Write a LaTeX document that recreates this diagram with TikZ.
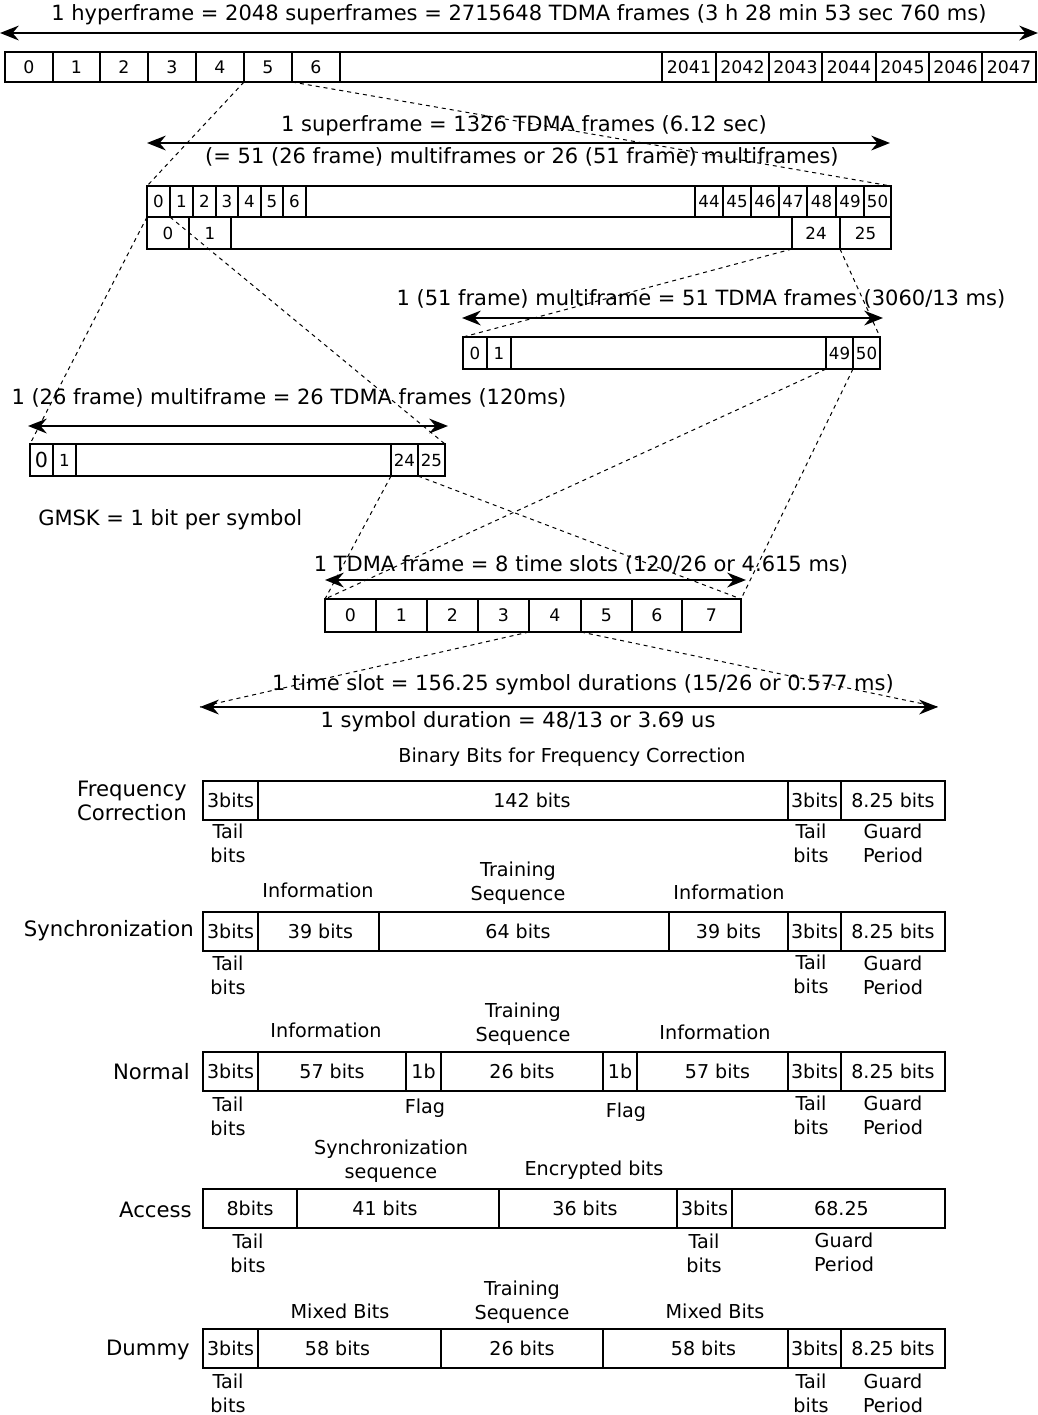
\documentclass[tikz,border=0pt]{standalone}
\usepackage{fontspec}
\setmainfont{DejaVu Sans}
\usetikzlibrary{arrows.meta}
\newcommand\cellx[7]{\node[#6, anchor=north west, minimum width={(#4-#2)*0.75pt}, minimum height={(#5-#3)*0.75pt}] (#1) at (#2,#3) {#7};}
\tikzset{
 cell/.style={draw, line width=1.8pt, inner sep=0pt, outer sep=0pt, font=\fontsize{13pt}{15pt}\selectfont},
 scell/.style={cell, font=\fontsize{12.5pt}{14pt}\selectfont},
 bcell/.style={cell, font=\fontsize{14.3pt}{17pt}\selectfont},
 zcell/.style={cell, font=\fontsize{15.5pt}{17pt}\selectfont},
 ttl/.style={inner sep=0pt, font=\fontsize{15.75pt}{19pt}\selectfont},
 lbl/.style={inner sep=0pt, align=center, font=\fontsize{14.4pt}{18pt}\selectfont},
 rowname/.style={inner sep=0pt, anchor=east, align=right, font=\fontsize{15.9pt}{18pt}\selectfont},
 span/.style={line width=2.1pt, {Stealth[length=14pt,width=11pt]}-{Stealth[length=14pt,width=11pt]}},
 zoomline/.style={line width=0.75pt, dash pattern=on 3pt off 3pt},
}
\begin{document}
\begin{tikzpicture}[x=0.75pt,y=-0.75pt]
\useasboundingbox (0,0) rectangle (1038,1415);
% ---------- hyperframe
\node[ttl] (hyt) at (519,15) {1 hyperframe = 2048 superframes = 2715648 TDMA frames (3 h 28 min 53 sec 760 ms)};
\coordinate (hya) at (0,33); \coordinate (hyb) at (1038,33);
\draw[span] (hya) -- (hyb);
\cellx{h0}{5}{52}{53}{82}{cell}{0}
\cellx{h1}{53}{52}{100}{82}{cell}{1}
\cellx{h2}{100}{52}{148}{82}{cell}{2}
\cellx{h3}{148}{52}{196}{82}{cell}{3}
\cellx{h4}{196}{52}{244}{82}{cell}{4}
\cellx{h5}{244}{52}{292}{82}{cell}{5}
\cellx{h6}{292}{52}{340}{82}{cell}{6}
\cellx{hgap}{340}{52}{662}{82}{cell}{}
\cellx{h2041}{662}{52}{716}{82}{cell}{2041}
\cellx{h2042}{716}{52}{769}{82}{cell}{2042}
\cellx{h2043}{769}{52}{822}{82}{cell}{2043}
\cellx{h2044}{822}{52}{876}{82}{cell}{2044}
\cellx{h2045}{876}{52}{929}{82}{cell}{2045}
\cellx{h2046}{929}{52}{982}{82}{cell}{2046}
\cellx{h2047}{982}{52}{1036}{82}{cell}{2047}
% ---------- superframe
\node[ttl] (sut) at (524,126) {1 superframe = 1326 TDMA frames (6.12 sec)};
\coordinate (sua) at (147,143); \coordinate (sub) at (890,143);
\draw[span] (sua) -- (sub);
\node[ttl] (sut2) at (522,157) {(= 51 (26 frame) multiframes or 26 (51 frame) multiframes)};
\cellx{s0}{147}{186}{170}{217}{scell}{0}
\cellx{s1}{170}{186}{193}{217}{scell}{1}
\cellx{s2}{193}{186}{216}{217}{scell}{2}
\cellx{s3}{216}{186}{238}{217}{scell}{3}
\cellx{s4}{238}{186}{261}{217}{scell}{4}
\cellx{s5}{261}{186}{283}{217}{scell}{5}
\cellx{s6}{283}{186}{306}{217}{scell}{6}
\cellx{sgap}{306}{186}{695}{217}{scell}{}
\cellx{s44}{695}{186}{723}{217}{scell}{44}
\cellx{s45}{723}{186}{751}{217}{scell}{45}
\cellx{s46}{751}{186}{779}{217}{scell}{46}
\cellx{s47}{779}{186}{807}{217}{scell}{47}
\cellx{s48}{807}{186}{836}{217}{scell}{48}
\cellx{s49}{836}{186}{864}{217}{scell}{49}
\cellx{s50}{864}{186}{891}{217}{scell}{50}
\cellx{r0}{147}{217}{189}{249}{scell}{0}
\cellx{r1}{189}{217}{231}{249}{scell}{1}
\cellx{rgap}{231}{217}{792}{249}{scell}{}
\cellx{r24}{792}{217}{840}{249}{scell}{24}
\cellx{r25}{840}{217}{891}{249}{scell}{25}
% ---------- 51 frame multiframe
\node[ttl] (mat) at (701,299) {1 (51 frame) multiframe = 51 TDMA frames (3060/13 ms)};
\coordinate (maa) at (462,318); \coordinate (mab) at (883,318);
\draw[span] (maa) -- (mab);
\cellx{a0}{463}{337}{487}{369}{scell}{0}
\cellx{a1}{487}{337}{511}{369}{scell}{1}
\cellx{agap}{511}{337}{826}{369}{scell}{}
\cellx{a49}{826}{337}{853}{369}{scell}{49}
\cellx{a50}{853}{337}{880}{369}{scell}{50}
% ---------- 26 frame multiframe
\node[ttl] (mbt) at (289,398) {1 (26 frame) multiframe = 26 TDMA frames (120ms)};
\coordinate (mba) at (28,426); \coordinate (mbb) at (448,426);
\draw[span] (mba) -- (mbb);
\cellx{b0}{30}{444}{53}{476}{zcell}{0}
\cellx{b1}{53}{444}{76}{476}{scell}{1}
\cellx{bgap}{76}{444}{391}{476}{scell}{}
\cellx{b24}{391}{444}{418}{476}{scell}{24}
\cellx{b25}{418}{444}{445}{476}{scell}{25}
\node[ttl, anchor=west] (gmsk) at (38,520) {GMSK = 1 bit per symbol};
% ---------- TDMA frame
\node[ttl] (tdt) at (581,565) {1 TDMA frame = 8 time slots (120/26 or 4.615 ms)};
\coordinate (tda) at (325,580); \coordinate (tdb) at (746,580);
\draw[span] (tda) -- (tdb);
\cellx{t0}{325}{599}{376}{632}{cell}{0}
\cellx{t1}{376}{599}{427}{632}{cell}{1}
\cellx{t2}{427}{599}{478}{632}{cell}{2}
\cellx{t3}{478}{599}{529}{632}{cell}{3}
\cellx{t4}{529}{599}{581}{632}{cell}{4}
\cellx{t5}{581}{599}{632}{632}{cell}{5}
\cellx{t6}{632}{599}{682}{632}{cell}{6}
\cellx{t7}{682}{599}{741}{632}{cell}{7}
% ---------- time slot
\node[ttl] (tst) at (583,685) {1 time slot = 156.25 symbol durations (15/26 or 0.577 ms)};
\coordinate (tsa) at (200,707); \coordinate (tsb) at (938,707);
\draw[span] (tsa) -- (tsb);
\node[ttl] (sym) at (518,722) {1 symbol duration = 48/13 or 3.69 us};
% ---------- zoom lines
\draw[zoomline] (h4.south east) -- (s0.north west);
\draw[zoomline] (h5.south east) -- (s50.north east);
\draw[zoomline] (s0.south west) -- (b0.north west);
\draw[zoomline] (s0.south east) -- (b25.north east);
\draw[zoomline] (r24.south west) -- (a0.north west);
\draw[zoomline] (r24.south east) -- (a50.north east);
\draw[zoomline] (a49.south west) -- (t0.north west);
\draw[zoomline] (a49.south east) -- (t7.north east);
\draw[zoomline] (b24.south west) -- (t0.north west);
\draw[zoomline] (b24.south east) -- (t7.north east);
\draw[zoomline] (t4.south west) -- (tsa);
\draw[zoomline] (t4.south east) -- (tsb);
% ---------- Frequency correction burst
\node[lbl] (bbf) at (572,757) {Binary Bits for Frequency Correction};
\node[rowname] (fcn) at (187,801) {Frequency\\Correction};
\cellx{fc1}{203}{781}{258}{820}{bcell}{3bits}
\cellx{fc2}{258}{781}{788}{820}{bcell}{\hspace*{13.5pt}142 bits}
\cellx{fc3}{788}{781}{841}{820}{bcell}{3bits}
\cellx{fc4}{841}{781}{945}{820}{bcell}{8.25 bits}
\node[lbl] (fcl1) at (228,843) {Tail\\bits};
\node[lbl] (fcl2) at (811,843) {Tail\\bits};
\node[lbl] (fcl3) at (893,843) {Guard\\Period};
% ---------- Synchronization burst
\node[rowname] (syn) at (194,931) {Synchronization};
\node[lbl] (syi1) at (318,890) {Information};
\node[lbl] (syts) at (518,883) {Training\\Sequence};
\node[lbl] (syi2) at (729,892) {Information};
\cellx{sy1}{203}{912}{258}{951}{bcell}{3bits}
\cellx{sy2}{258}{912}{379}{951}{bcell}{\hspace*{3pt}39 bits}
\cellx{sy3}{379}{912}{669}{951}{bcell}{64 bits\hspace*{9pt}}
\cellx{sy4}{669}{912}{788}{951}{bcell}{39 bits}
\cellx{sy5}{788}{912}{841}{951}{bcell}{3bits}
\cellx{sy6}{841}{912}{945}{951}{bcell}{8.25 bits}
\node[lbl] (syl1) at (228,975) {Tail\\bits};
\node[lbl] (syl2) at (811,974) {Tail\\bits};
\node[lbl] (syl3) at (893,975) {Guard\\Period};
% ---------- Normal burst
\node[rowname] (non) at (190,1072) {Normal};
\node[lbl] (noi1) at (326,1030) {Information};
\node[lbl] (nots) at (523,1024) {Training\\Sequence};
\node[lbl] (noi2) at (715,1032) {Information};
\cellx{no1}{203}{1052}{258}{1091}{bcell}{3bits}
\cellx{no2}{258}{1052}{406}{1091}{bcell}{57 bits}
\cellx{no3}{406}{1052}{441}{1091}{bcell}{1b}
\cellx{no4}{441}{1052}{603}{1091}{bcell}{26 bits}
\cellx{no5}{603}{1052}{637}{1091}{bcell}{1b}
\cellx{no6}{637}{1052}{788}{1091}{bcell}{\hspace*{7.5pt}57 bits}
\cellx{no7}{788}{1052}{841}{1091}{bcell}{3bits}
\cellx{no8}{841}{1052}{945}{1091}{bcell}{8.25 bits}
\node[lbl] (nol1) at (228,1116) {Tail\\bits};
\node[lbl] (nof1) at (425,1108) {Flag};
\node[lbl] (nof2) at (626,1112) {Flag};
\node[lbl] (nol2) at (811,1115) {Tail\\bits};
\node[lbl] (nol3) at (893,1115) {Guard\\Period};
% ---------- Access burst
\node[rowname] (acn) at (192,1210) {Access};
\node[lbl] (acs) at (391,1161) {Synchronization\\sequence};
\node[lbl] (ace) at (594,1170) {Encrypted bits};
\cellx{ac1}{203}{1189}{297}{1228}{bcell}{8bits}
\cellx{ac2}{297}{1189}{499}{1228}{bcell}{41 bits\hspace*{19.5pt}}
\cellx{ac3}{499}{1189}{677}{1228}{bcell}{36 bits\hspace*{4.5pt}}
\cellx{ac4}{677}{1189}{732}{1228}{bcell}{3bits}
\cellx{ac5}{732}{1189}{945}{1228}{bcell}{\hspace*{4.5pt}68.25}
\node[lbl] (acl1) at (248,1253) {Tail\\bits};
\node[lbl] (acl2) at (704,1253) {Tail\\bits};
\node[lbl] (acl3) at (844,1252) {Guard\\Period};
% ---------- Dummy burst
\node[rowname] (dun) at (190,1350) {Dummy};
\node[lbl] (dum1) at (340,1311) {Mixed Bits};
\node[lbl] (duts) at (522,1302) {Training\\Sequence};
\node[lbl] (dum2) at (715,1311) {Mixed Bits};
\cellx{du1}{203}{1329}{258}{1368}{bcell}{3bits}
\cellx{du2}{258}{1329}{441}{1368}{bcell}{58 bits\hspace*{18pt}}
\cellx{du3}{441}{1329}{603}{1368}{bcell}{26 bits}
\cellx{du4}{603}{1329}{788}{1368}{bcell}{\hspace*{12pt}58 bits}
\cellx{du5}{788}{1329}{841}{1368}{bcell}{3bits}
\cellx{du6}{841}{1329}{945}{1368}{bcell}{8.25 bits}
\node[lbl] (dul1) at (228,1393) {Tail\\bits};
\node[lbl] (dul2) at (811,1393) {Tail\\bits};
\node[lbl] (dul3) at (893,1393) {Guard\\Period};
\end{tikzpicture}
\end{document}
